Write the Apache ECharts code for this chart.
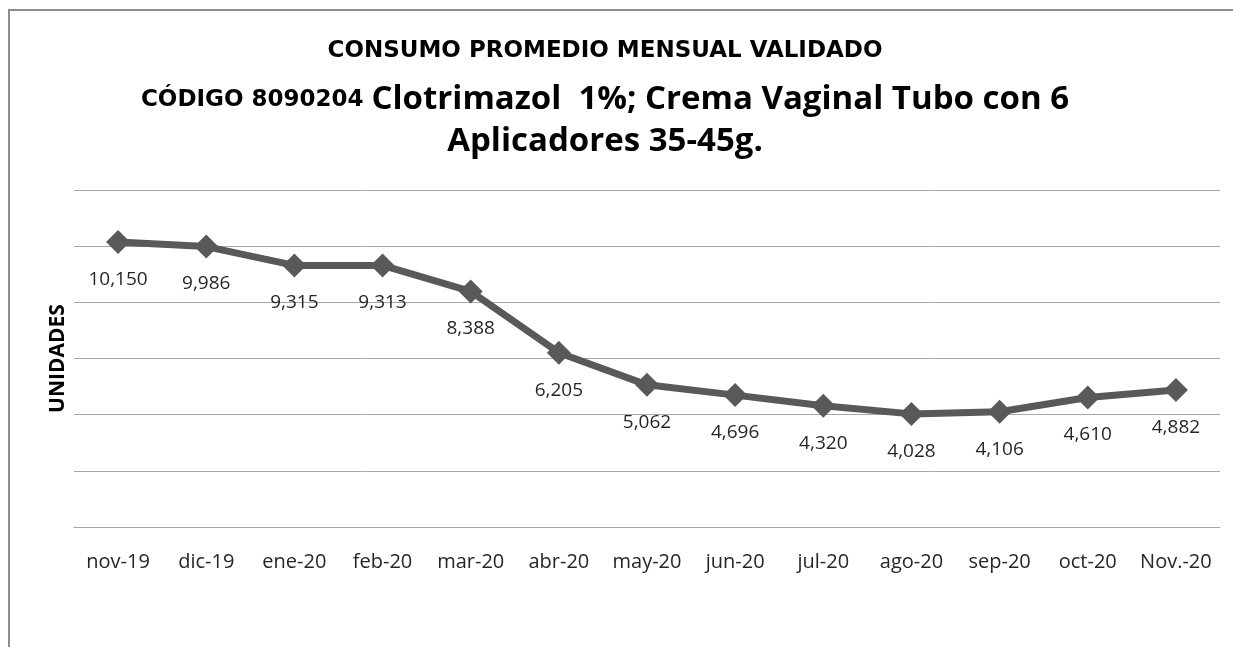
<!DOCTYPE html>
<html>
<head>
<meta charset="utf-8">
<script src="https://cdn.jsdelivr.net/npm/echarts@6/dist/echarts.min.js"></script>
<style>
  html, body { margin: 0; padding: 0; background: #fff; }
  #chart { width: 1233px; height: 647px; }
</style>
</head>
<body>
<div id="chart"></div>
<script>
  // meses y consumo validado
  const months = ['nov-19', 'dic-19', 'ene-20', 'feb-20', 'mar-20', 'abr-20', 'may-20',
    'jun-20', 'jul-20', 'ago-20', 'sep-20', 'oct-20', 'Nov.-20'];
  const consumo = [10150, 9986, 9315, 9313, 8388, 6205, 5062, 4696, 4320, 4028, 4106, 4610, 4882];

  const myChart = echarts.init(document.getElementById('chart'));
  const font = '"Open Sans", Lato, sans-serif';
  const wide = '"DejaVu Sans", sans-serif';

  const option = {
    backgroundColor: '#fff',
    animation: false,
    graphic: [{
      type: 'rect',
      shape: { x: 9, y: 10, width: 1300, height: 700 },
      style: { fill: 'none', stroke: '#8c8c8c', lineWidth: 2 }
    }],
    title: {
      left: 600,
      top: 19,
      textAlign: 'center',
      text: '{a|CONSUMO PROMEDIO MENSUAL VALIDADO}\n{b|CÓDIGO 8090204 }{c|Clotrimazol  1%; Crema Vaginal Tubo con 6}\n{c|Aplicadores 35-45g.}',
      textStyle: {
        fontFamily: font,
        rich: {
          a: { fontSize: 23, fontWeight: 'bold', color: '#000', fontFamily: wide, lineHeight: 55 },
          b: { fontSize: 23, fontWeight: 'bold', color: '#000', fontFamily: wide, lineHeight: 42 },
          c: { fontSize: 33, fontWeight: 'bold', color: '#000', fontFamily: font, lineHeight: 42 }
        }
      }
    },
    grid: { left: 74, right: 13, top: 190, bottom: 120 },
    xAxis: {
      type: 'category',
      data: months,
      boundaryGap: true,
      axisLine: { lineStyle: { color: '#a6a6a6', width: 1 } },
      axisTick: { show: false },
      axisLabel: { color: '#262626', fontSize: 20, fontFamily: font, margin: 25, interval: 0 }
    },
    yAxis: {
      type: 'value',
      min: 0,
      max: 12000,
      interval: 2000,
      name: 'UNIDADES',
      nameLocation: 'middle',
      nameGap: 5,
      nameRotate: 90,
      nameTextStyle: { fontSize: 21, fontWeight: 'bold', color: '#000', fontFamily: font },
      axisLabel: { show: false },
      axisLine: { show: false },
      axisTick: { show: false },
      splitLine: { lineStyle: { color: '#a6a6a6', width: 1 } }
    },
    series: [{
      name: 'consumo',
      type: 'line',
      data: consumo,
      symbol: 'diamond',
      symbolSize: 24,
      lineStyle: { color: '#595959', width: 7 },
      itemStyle: { color: '#595959' },
      label: {
        show: true,
        position: 'bottom',
        distance: 16,
        color: '#262626',
        fontSize: 19,
        fontFamily: font,
        formatter: p => p.value.toLocaleString('en-US')
      }
    }]
  };

  myChart.setOption(option);
</script>
</body>
</html>
